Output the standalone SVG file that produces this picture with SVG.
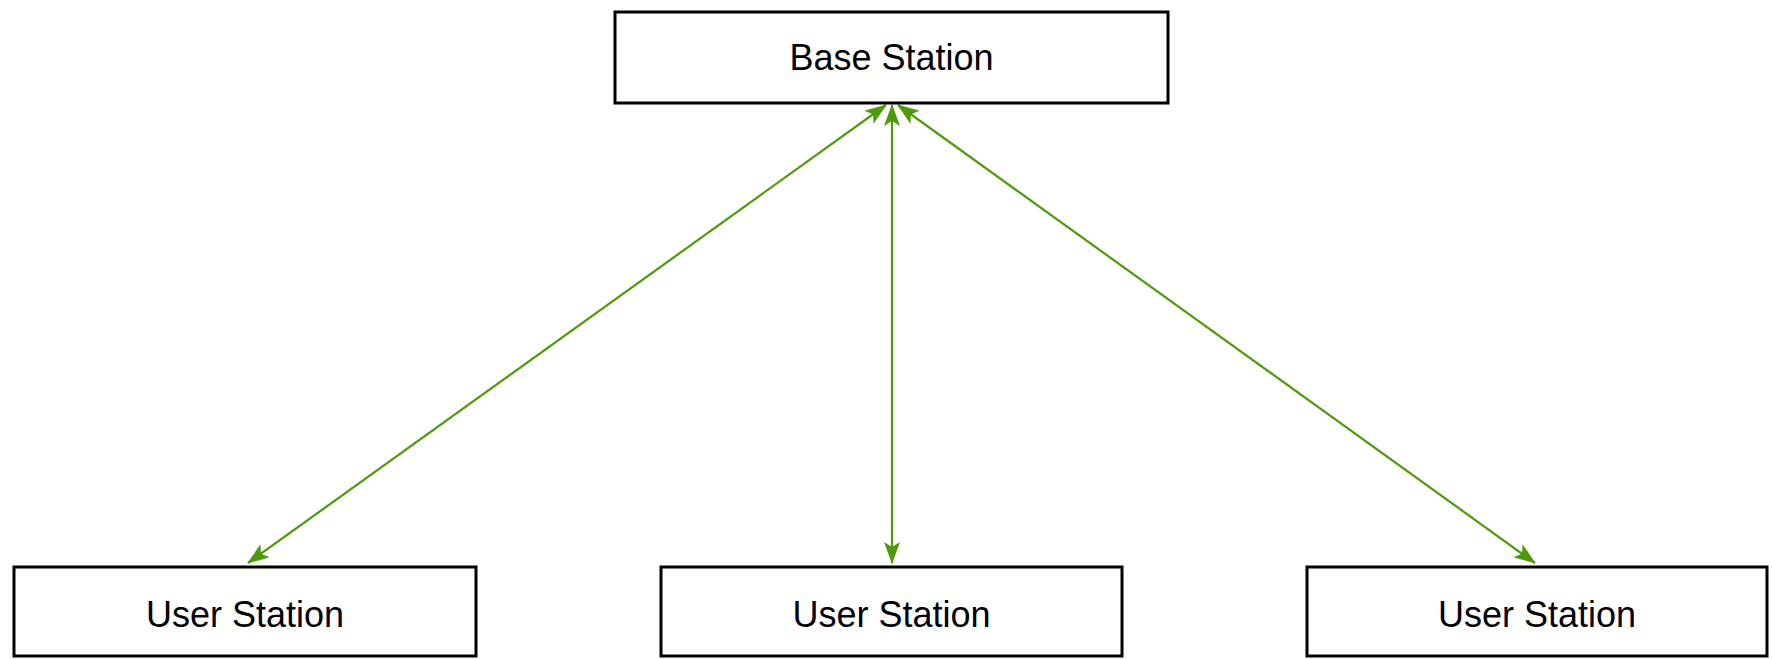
<svg xmlns="http://www.w3.org/2000/svg" width="1772" height="659" viewBox="0 0 1772 659">
<style>
.box{fill:#fff;stroke:#000;stroke-width:3}
.lbl{font-family:"Liberation Sans",Arial,sans-serif;font-size:36px;fill:#000;text-anchor:middle}
.con{stroke:#4f9a0a;stroke-width:2.2;fill:none;marker-start:url(#ah);marker-end:url(#ah)}
</style>
<defs>
<marker id="ah" viewBox="0 0 22 16" refX="21" refY="8" markerWidth="22" markerHeight="16" markerUnits="userSpaceOnUse" orient="auto-start-reverse">
<path d="M0,0 L22,8 L0,16 L5,8 Z" fill="#4f9a0a"/>
</marker>
</defs>
<g id="connectors">
<line class="con" x1="886" y1="105" x2="248" y2="563"/>
<line class="con" x1="892" y1="105" x2="892" y2="563"/>
<line class="con" x1="898" y1="105" x2="1535" y2="563"/>
</g>
<g id="base"><rect class="box" x="615" y="12" width="553" height="91"/><text class="lbl" x="891.5" y="70">Base Station</text></g>
<g id="user1"><rect class="box" x="14" y="567" width="462" height="89"/><text class="lbl" x="245" y="627">User Station</text></g>
<g id="user2"><rect class="box" x="661" y="567" width="461" height="89"/><text class="lbl" x="891.5" y="627">User Station</text></g>
<g id="user3"><rect class="box" x="1307" y="567" width="460" height="89"/><text class="lbl" x="1537" y="627">User Station</text></g>
</svg>
